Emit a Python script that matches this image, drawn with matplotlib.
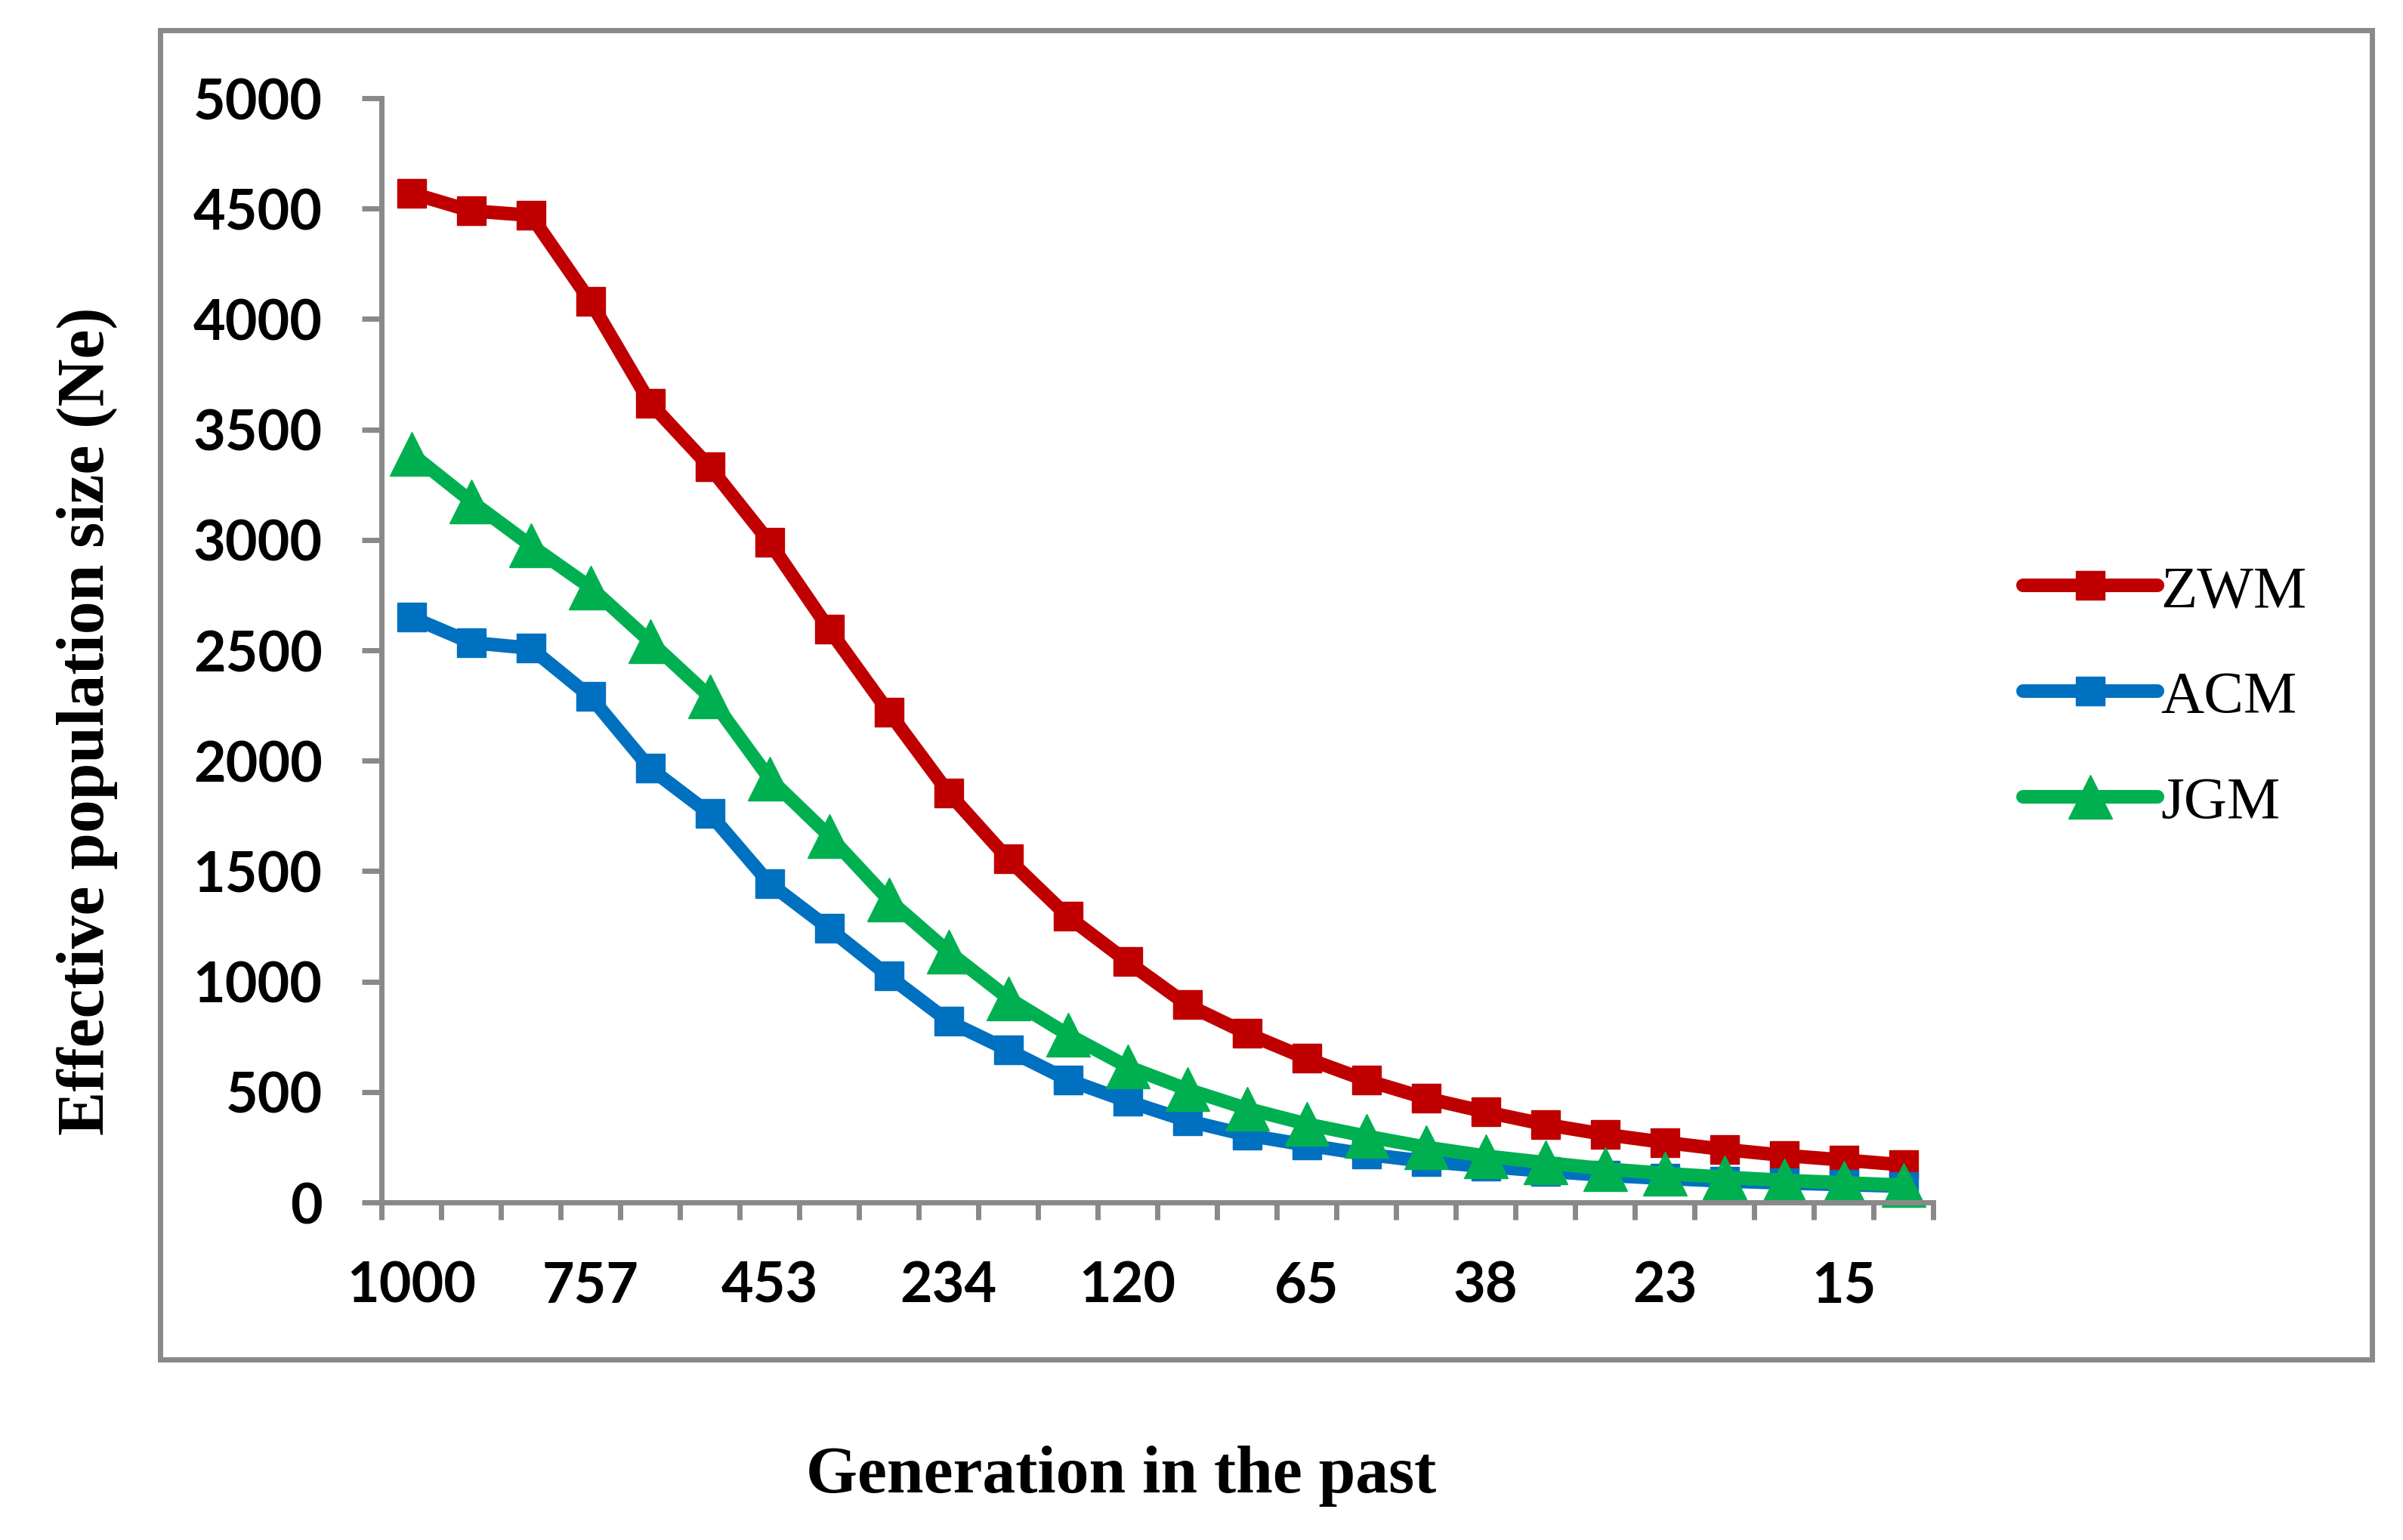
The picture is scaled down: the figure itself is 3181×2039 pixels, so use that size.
import numpy as np
import matplotlib
matplotlib.use('Agg')
import matplotlib.pyplot as plt
from matplotlib.patches import Rectangle
from matplotlib.font_manager import FontProperties

# Values, oldest generation first (26 points)
zwm = [4570, 4490, 4470, 4080, 3620, 3330, 2990, 2595, 2220, 1855, 1555, 1295, 1090,
       895, 765, 652, 553, 472, 410, 353, 308, 272, 240, 213, 192, 170]
acm = [2650, 2535, 2510, 2290, 1965, 1760, 1445, 1240, 1025, 820, 690, 555, 458,
       370, 305, 260, 218, 186, 163, 142, 123, 109, 97, 88, 81, 73]
jgm = [3390, 3175, 2975, 2785, 2540, 2290, 1920, 1660, 1370, 1135, 925, 760, 615,
       512, 425, 355, 300, 250, 210, 180, 152, 131, 114, 100, 89, 78]
gen_labels = ['1000', '757', '453', '234', '120', '65', '38', '23', '15']
series = ['ZWM', 'ACM', 'JGM']

colors = {'ZWM': '#C00000', 'ACM': '#0070C0', 'JGM': '#00B050'}
markers = {'ZWM': ('s', 28), 'ACM': ('s', 28), 'JGM': ('^', 42)}
grey = '#898989'
tick_font = ['Lato', 'DejaVu Sans']
title_font = ['Liberation Serif', 'DejaVu Serif']

fig = plt.figure(figsize=(31.81, 20.39), dpi=100)
ax = fig.add_axes([0.1588, 0.2192, 0.6457, 0.7170])

x = np.arange(len(zwm))
handles = []
for name, vals in zip(series, [zwm, acm, jgm]):
    m, ms = markers[name]
    h, = ax.plot(x, vals, color=colors[name], lw=13, marker=m, ms=ms,
                 mec=colors[name], mfc=colors[name], solid_joinstyle='round',
                 solid_capstyle='round', label=name, clip_on=False)
    handles.append(h)

ax.set_xlim(-0.5, len(zwm) - 0.5)
ax.set_ylim(0, 5000)
ax.set_yticks(np.arange(0, 5001, 500))

# ticks between categories, labels every third category
ax.set_xticks(np.arange(-0.5, len(zwm), 1.0))
ax.set_xticklabels([])
ax.set_xticks(np.arange(0, len(zwm), 3), gen_labels, minor=True)
ax.tick_params(axis='x', which='major', direction='out', length=16.5, width=5, color=grey)
ax.tick_params(axis='x', which='minor', length=0, pad=55)
ax.tick_params(axis='y', direction='out', length=18.5, width=5, color=grey, pad=38)

for lab in ax.get_xticklabels(minor=True) + ax.get_yticklabels():
    lab.set_fontfamily(tick_font)
    lab.set_fontweight('bold')
    lab.set_fontsize(53)

for s in ['top', 'right']:
    ax.spines[s].set_visible(False)
for s in ['left', 'bottom']:
    ax.spines[s].set_color(grey)
    ax.spines[s].set_linewidth(5)

# chart area border (Excel style)
fig.patches.append(Rectangle((0.0666, 0.1172), 0.9205, 0.8632, transform=fig.transFigure,
                             fill=False, edgecolor=grey, lw=5))

fig.text(0.0362, 0.5316, 'Effective population size (Ne)', rotation=90,
         ha='center', va='center', fontsize=63, fontweight='bold', family=title_font)
fig.text(0.4665, 0.0412, 'Generation in the past', ha='center', va='center',
         fontsize=63, fontweight='bold', family=title_font)

fig.legend(handles=handles, loc='center left', bbox_to_anchor=(0.842, 0.547),
           frameon=False, prop=FontProperties(family=title_font, size=57),
           handlelength=2.24, handletextpad=0.06, labelspacing=0.85,
           borderpad=0, borderaxespad=0)

fig.savefig('out.png', dpi=100)
